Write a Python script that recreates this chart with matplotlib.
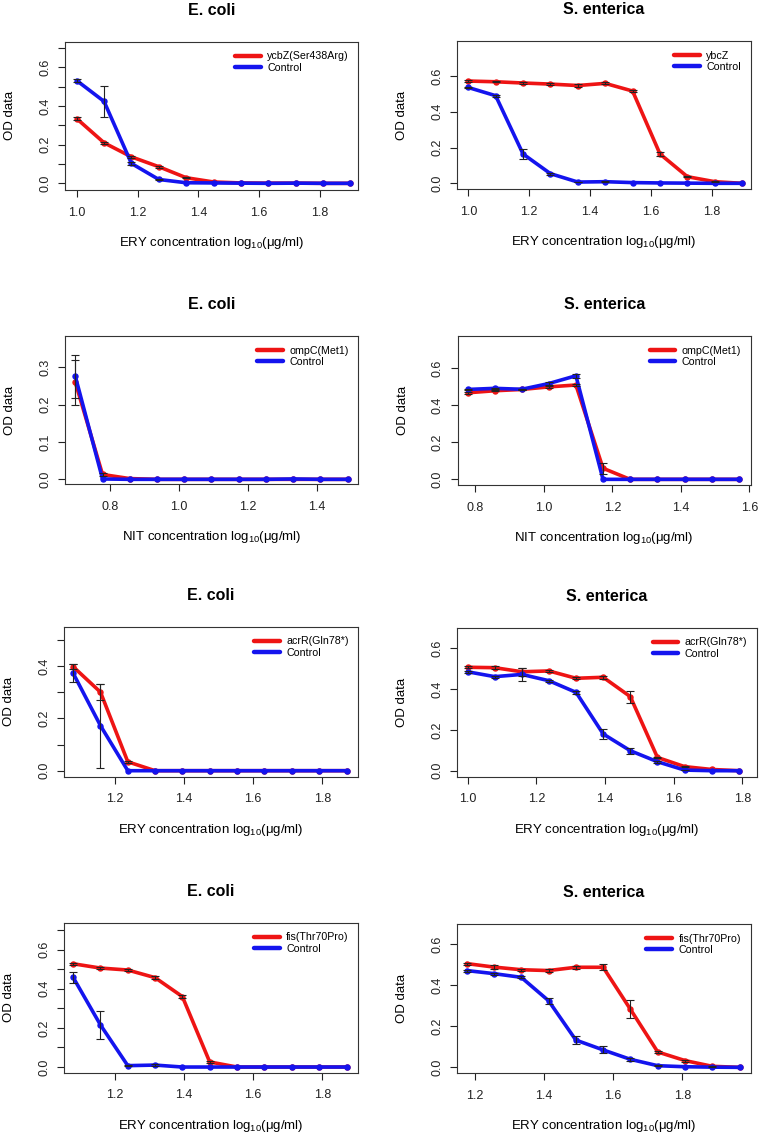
import matplotlib
matplotlib.use("Agg")
import matplotlib.pyplot as plt

plt.rcParams["font.family"] = ["Liberation Sans", "DejaVu Sans"]
plt.rcParams["mathtext.fontset"] = "custom"
plt.rcParams["mathtext.rm"] = "Liberation Sans"
plt.rcParams["mathtext.it"] = "Liberation Sans:italic"

RED = "#ee1414"
BLUE = "#1414ee"

# --- data (log10 concentration, OD mean, OD error) ---
x_ery_a = [1.0, 1.09, 1.18, 1.27, 1.36, 1.45, 1.54, 1.63, 1.72, 1.81, 1.90]
ycbz_ec = [0.335, 0.21, 0.137, 0.086, 0.029, 0.007, 0.002, 0.001, 0.001, 0.0, 0.0]
ycbz_ec_err = [0.008, 0.004, 0.004, 0.006, 0.003, 0.0, 0.0, 0.0, 0.0, 0.0, 0.0]
ctrl1_ec = [0.532, 0.424, 0.103, 0.02, 0.003, 0.002, 0.001, 0.0, 0.001, 0.0, 0.0]
ctrl1_ec_err = [0.01, 0.079, 0.006, 0.003, 0.0, 0.0, 0.0, 0.0, 0.0, 0.0, 0.0]

ybcz_se = [0.572, 0.568, 0.561, 0.555, 0.547, 0.559, 0.516, 0.164, 0.037, 0.009, 0.0]
ybcz_se_err = [0.005, 0.004, 0.005, 0.004, 0.006, 0.005, 0.006, 0.012, 0.003, 0.002, 0.0]
ctrl1_se = [0.536, 0.49, 0.164, 0.054, 0.007, 0.009, 0.004, 0.002, 0.001, 0.0, 0.0]
ctrl1_se_err = [0.005, 0.005, 0.028, 0.006, 0.002, 0.003, 0.0, 0.0, 0.0, 0.0, 0.0]

x_nit_ec = [0.699, 0.778, 0.857, 0.936, 1.015, 1.094, 1.173, 1.252, 1.332, 1.411, 1.490]
ompc_ec = [0.26, 0.013, 0.002, 0.0, 0.0, 0.0, 0.0, 0.0, 0.0, 0.0, 0.0]
ompc_ec_err = [0.06, 0.003, 0.0, 0.0, 0.0, 0.0, 0.0, 0.0, 0.0, 0.0, 0.0]
ctrl2_ec = [0.276, 0.001, 0.0, 0.0, 0.0, 0.0, 0.0, 0.0, 0.001, 0.0, 0.0]
ctrl2_ec_err = [0.057, 0.0, 0.0, 0.0, 0.0, 0.0, 0.0, 0.0, 0.0, 0.0, 0.0]

x_nit_se = [0.778, 0.857, 0.936, 1.015, 1.094, 1.173, 1.252, 1.332, 1.411, 1.490, 1.569]
ompc_se = [0.468, 0.479, 0.486, 0.5, 0.51, 0.06, 0.0, 0.0, 0.0, 0.0, 0.0]
ompc_se_err = [0.005, 0.004, 0.004, 0.005, 0.005, 0.03, 0.0, 0.0, 0.0, 0.0, 0.0]
ctrl2_se = [0.486, 0.492, 0.487, 0.518, 0.56, 0.0, 0.0, 0.0, 0.0, 0.0, 0.0]
ctrl2_se_err = [0.005, 0.004, 0.004, 0.006, 0.01, 0.0, 0.0, 0.0, 0.0, 0.0, 0.0]

x_ery_b = [1.079, 1.158, 1.237, 1.316, 1.395, 1.474, 1.553, 1.632, 1.711, 1.790, 1.870]
acrr_ec = [0.397, 0.30, 0.034, 0.0, 0.0, 0.0, 0.0, 0.0, 0.0, 0.0, 0.0]
acrr_ec_err = [0.01, 0.03, 0.003, 0.0, 0.0, 0.0, 0.0, 0.0, 0.0, 0.0, 0.0]
ctrl3_ec = [0.372, 0.172, 0.0, 0.0, 0.0, 0.0, 0.0, 0.0, 0.0, 0.0, 0.0]
ctrl3_ec_err = [0.035, 0.16, 0.0, 0.0, 0.0, 0.0, 0.0, 0.0, 0.0, 0.0, 0.0]

x_ery_c = [1.0, 1.079, 1.158, 1.237, 1.316, 1.395, 1.474, 1.553, 1.632, 1.711, 1.790]
acrr_se = [0.507, 0.505, 0.485, 0.489, 0.453, 0.458, 0.363, 0.065, 0.02, 0.006, 0.0]
acrr_se_err = [0.005, 0.007, 0.02, 0.005, 0.004, 0.008, 0.03, 0.004, 0.003, 0.0, 0.0]
ctrl3_se = [0.485, 0.461, 0.472, 0.441, 0.384, 0.18, 0.098, 0.044, 0.003, 0.0, 0.0]
ctrl3_se_err = [0.005, 0.005, 0.03, 0.005, 0.006, 0.025, 0.015, 0.005, 0.002, 0.0, 0.0]

fis_ec = [0.528, 0.506, 0.496, 0.457, 0.36, 0.026, 0.0, 0.0, 0.0, 0.0, 0.0]
fis_ec_err = [0.005, 0.004, 0.006, 0.006, 0.008, 0.003, 0.0, 0.0, 0.0, 0.0, 0.0]
ctrl4_ec = [0.458, 0.215, 0.007, 0.01, 0.0, 0.0, 0.0, 0.0, 0.0, 0.0, 0.0]
ctrl4_ec_err = [0.03, 0.072, 0.003, 0.003, 0.0, 0.0, 0.0, 0.0, 0.0, 0.0, 0.0]

x_ery_d = [1.176, 1.255, 1.334, 1.413, 1.492, 1.571, 1.650, 1.729, 1.808, 1.887, 1.966]
fis_se = [0.506, 0.489, 0.476, 0.472, 0.488, 0.488, 0.283, 0.075, 0.033, 0.005, 0.0]
fis_se_err = [0.005, 0.008, 0.005, 0.006, 0.007, 0.015, 0.043, 0.005, 0.005, 0.002, 0.0]
ctrl4_se = [0.472, 0.457, 0.439, 0.325, 0.133, 0.085, 0.039, 0.008, 0.003, 0.001, 0.0]
ctrl4_se_err = [0.005, 0.005, 0.005, 0.015, 0.02, 0.017, 0.006, 0.003, 0.0, 0.0, 0.0]

ERY_LABEL = "ERY concentration log$_{10}$(\u03bcg/ml)"
NIT_LABEL = "NIT concentration log$_{10}$(\u03bcg/ml)"

# (title, mutant label, x, mutant, mutant err, control, control err, xlabel,
#  box px (left, right, top, bottom), xlim, ylim, xticks, yticks, labelled yticks)
panels = [
    ("E. coli", "ycbZ(Ser438Arg)", x_ery_a, ycbz_ec, ycbz_ec_err, ctrl1_ec, ctrl1_ec_err, ERY_LABEL,
     (65, 358.3, 41.7, 190), (0.9616, 1.926), (-0.0345, 0.733),
     [1.0, 1.2, 1.4, 1.6, 1.8], [0, 0.1, 0.2, 0.3, 0.4, 0.5, 0.6, 0.7], [0, 0.2, 0.4, 0.6]),
    ("S. enterica", "ybcZ", x_ery_a, ybcz_se, ybcz_se_err, ctrl1_se, ctrl1_se_err, ERY_LABEL,
     (457.3, 750.7, 41, 189.3), (0.964, 1.928), (-0.0335, 0.796),
     [1.0, 1.2, 1.4, 1.6, 1.8], [0, 0.2, 0.4, 0.6], [0, 0.2, 0.4, 0.6]),
    ("E. coli", "ompC(Met1)", x_nit_ec, ompc_ec, ompc_ec_err, ctrl2_ec, ctrl2_ec_err, NIT_LABEL,
     (65, 358.3, 336, 484), (0.669, 1.521), (-0.0125, 0.384),
     [0.8, 1.0, 1.2, 1.4], [0, 0.1, 0.2, 0.3], [0, 0.1, 0.2, 0.3]),
    ("S. enterica", "ompC(Met1)", x_nit_se, ompc_se, ompc_se_err, ctrl2_se, ctrl2_se_err, NIT_LABEL,
     (457.7, 750.7, 336, 485), (0.749, 1.604), (-0.0306, 0.775),
     [0.8, 1.0, 1.2, 1.4, 1.6], [0, 0.2, 0.4, 0.6], [0, 0.2, 0.4, 0.6]),
    ("E. coli", "acrR(Gln78*)", x_ery_b, acrr_ec, acrr_ec_err, ctrl3_ec, ctrl3_ec_err, ERY_LABEL,
     (64, 358.3, 626.7, 776.7), (1.0524, 1.904), (-0.0229, 0.550),
     [1.2, 1.4, 1.6, 1.8], [0, 0.1, 0.2, 0.3, 0.4, 0.5], [0, 0.2, 0.4]),
    ("S. enterica", "acrR(Gln78*)", x_ery_c, acrr_se, acrr_se_err, ctrl3_se, ctrl3_se_err, ERY_LABEL,
     (457.3, 757, 627.7, 776.7), (0.970, 1.843), (-0.0294, 0.701),
     [1.0, 1.2, 1.4, 1.6, 1.8], [0, 0.2, 0.4, 0.6], [0, 0.2, 0.4, 0.6]),
    ("E. coli", "fis(Thr70Pro)", x_ery_b, fis_ec, fis_ec_err, ctrl4_ec, ctrl4_ec_err, ERY_LABEL,
     (64, 358.3, 922.7, 1072.7), (1.0524, 1.904), (-0.029, 0.738),
     [1.2, 1.4, 1.6, 1.8], [0, 0.1, 0.2, 0.3, 0.4, 0.5, 0.6, 0.7], [0, 0.2, 0.4, 0.6]),
    ("S. enterica", "fis(Thr70Pro)", x_ery_d, fis_se, fis_se_err, ctrl4_se, ctrl4_se_err, ERY_LABEL,
     (457.3, 750.7, 924, 1073.3), (1.149, 1.998), (-0.029, 0.699),
     [1.2, 1.4, 1.6, 1.8], [0, 0.2, 0.4, 0.6], [0, 0.2, 0.4, 0.6]),
]

W, H = 760, 1136
fig = plt.figure(figsize=(W / 100, H / 100), dpi=100)

for (title, mut_label, x, mut, mut_err, ctrl, ctrl_err, xlabel,
     box, xlim, ylim, xticks, yticks, ylabelled) in panels:
    left, right, top, bottom = box
    w_px, h_px = right - left, bottom - top
    ax = fig.add_axes([left / W, 1 - bottom / H, w_px / W, h_px / H])

    line_kw = dict(lw=2.6, marker="o", markersize=3.6, solid_capstyle="round",
                   solid_joinstyle="round")
    ax.plot(x, mut, color=RED, label=mut_label, zorder=2, **line_kw)
    ax.plot(x, ctrl, color=BLUE, label="Control", zorder=3, **line_kw)
    for vals, errs in ((mut, mut_err), (ctrl, ctrl_err)):
        # like R's arrows(): zero-length bars are not drawn
        keep = [i for i, e in enumerate(errs) if e > 0]
        ax.errorbar([x[i] for i in keep], [vals[i] for i in keep],
                    yerr=[errs[i] for i in keep], fmt="none", ecolor="#222222",
                    elinewidth=0.8, capsize=2.6, capthick=0.8, zorder=4)

    ax.set_xlim(*xlim)
    ax.set_ylim(*ylim)
    ax.set_xticks(xticks)
    ax.set_xticklabels([f"{t:.1f}" for t in xticks])
    ax.set_yticks(yticks)
    ax.set_yticklabels([f"{t:.1f}" if any(abs(t - v) < 1e-9 for v in ylabelled) else ""
                        for t in yticks])

    ax.tick_params(direction="out", length=5, width=0.8, labelsize=9,
                   colors="#222222")
    ax.tick_params(axis="x", pad=7)
    ax.tick_params(axis="y", pad=5)
    for lab in ax.get_yticklabels():
        lab.set_rotation(90)
        lab.set_va("center")
    for sp in ax.spines.values():
        sp.set_linewidth(0.8)
        sp.set_color("#333333")

    ax.text(0.5, 1 + 31.5 / h_px, title, transform=ax.transAxes, ha="center",
            va="center", fontsize=11.5, fontweight="bold")
    ax.set_xlabel(xlabel, fontsize=9.5)
    ax.xaxis.set_label_coords(0.5, -53 / h_px)
    ax.xaxis.label.set_va("center")
    ax.set_ylabel("OD data", fontsize=9.5)
    ax.yaxis.set_label_coords(-55 / w_px, 0.5)
    ax.yaxis.label.set_va("center")

    leg = ax.legend(loc="upper right", frameon=False, fontsize=7.7,
                    handlelength=2.4, handletextpad=0.6, labelspacing=0.15,
                    borderaxespad=0.5)
    for h in leg.get_lines():
        h.set_linewidth(3.2)
        h.set_marker("")
        h.set_solid_capstyle("round")

fig.savefig("out.png", dpi=100)
